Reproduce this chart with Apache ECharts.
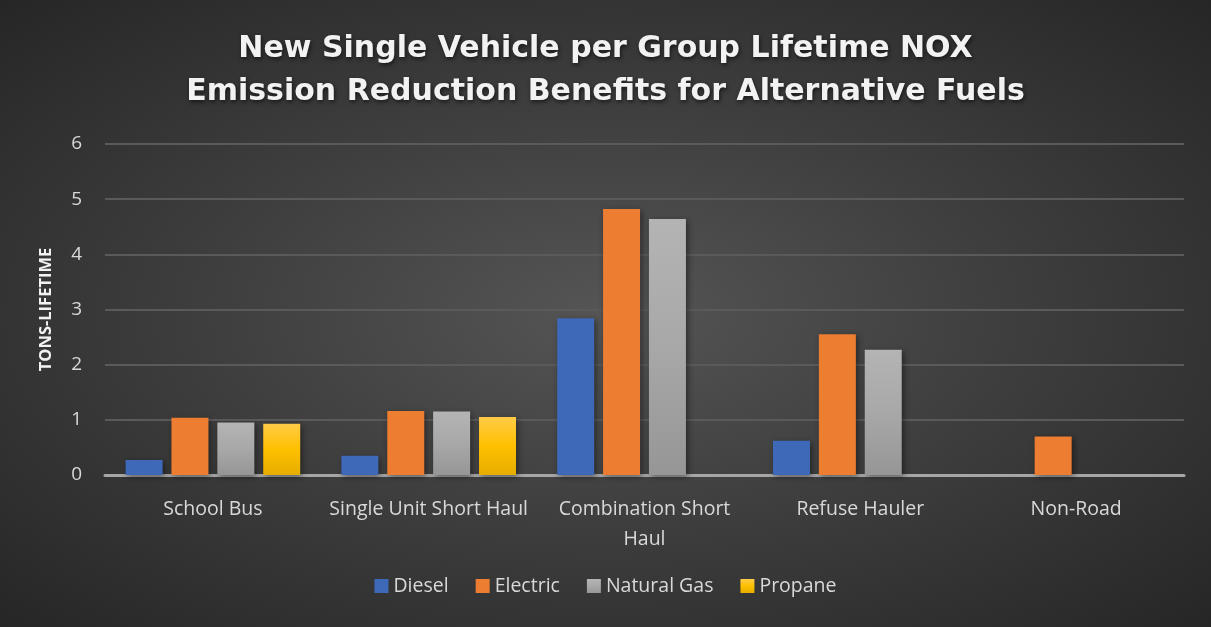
<!DOCTYPE html>
<html>
<head>
<meta charset="utf-8">
<script src="https://cdn.jsdelivr.net/npm/echarts@6/dist/echarts.min.js"></script>
<style>
  html, body { margin: 0; padding: 0; background: #262626; }
  #chart { width: 1211px; height: 627px;
    background: radial-gradient(ellipse at center, #555555 0%, #3f3f3f 45%, #262626 100%); }
</style>
</head>
<body>
<div id="chart"></div>
<script>
// Data
const categories = ['School Bus', 'Single Unit Short Haul', 'Combination Short\nHaul', 'Refuse Hauler', 'Non-Road'];
const diesel = [0.27, 0.35, 2.84, 0.62, null];
const electric = [1.04, 1.16, 4.82, 2.55, 0.70];
const naturalGas = [0.95, 1.15, 4.64, 2.27, null];
const propane = [0.93, 1.05, null, null, null];

const font = '"Open Sans", Lato, sans-serif';

function grad(top, mid, bottom) {
    return new echarts.graphic.LinearGradient(0, 0, 0, 1, [
        { offset: 0, color: top },
        { offset: 0.5, color: mid },
        { offset: 1, color: bottom }
    ]);
}

function makeSeries(name, data, color) {
    return {
        name: name,
        type: 'bar',
        data: data,
        barWidth: 37,
        barGap: '24%',
        itemStyle: {
            color: color,
            shadowBlur: 6,
            shadowOffsetX: 2,
            shadowOffsetY: 2,
            shadowColor: 'rgba(0,0,0,0.45)'
        }
    };
}

const chart = echarts.init(document.getElementById('chart'), null, { renderer: 'canvas' });

const option = {
    backgroundColor: 'transparent',
    animation: false,
    title: {
        text: 'New Single Vehicle per Group Lifetime NOX\nEmission Reduction Benefits for Alternative Fuels',
        left: 'center',
        top: 23,
        textStyle: {
            fontFamily: '"DejaVu Sans", sans-serif',
            fontWeight: 'bold',
            fontSize: 30,
            lineHeight: 43,
            color: '#f2f2f2',
            textShadowColor: 'rgba(0,0,0,0.6)',
            textShadowBlur: 4,
            textShadowOffsetX: 1,
            textShadowOffsetY: 2
        }
    },
    legend: {
        bottom: 26,
        left: 'center',
        itemWidth: 14,
        itemHeight: 14,
        itemGap: 27,
        icon: 'rect',
        textStyle: {
            fontFamily: font,
            fontSize: 19.5,
            color: '#d9d9d9'
        },
        data: ['Diesel', 'Electric', 'Natural Gas', 'Propane']
    },
    grid: {
        left: 105,
        right: 27,
        top: 144,
        bottom: 152,
        containLabel: false
    },
    xAxis: {
        type: 'category',
        data: categories,
        axisTick: { show: false },
        axisLine: { lineStyle: { color: '#a6a6a6', width: 3 } },
        axisLabel: {
            fontFamily: font,
            fontSize: 19.5,
            color: '#d9d9d9',
            margin: 19,
            lineHeight: 30,
            interval: 0
        }
    },
    yAxis: {
        type: 'value',
        min: 0,
        max: 6,
        interval: 1,
        name: 'TONS-LIFETIME',
        nameLocation: 'middle',
        nameGap: 50,
        nameRotate: 90,
        nameTextStyle: {
            fontFamily: font,
            fontWeight: 'bold',
            fontSize: 16.5,
            color: '#f2f2f2'
        },
        axisLine: { show: false },
        axisTick: { show: false },
        axisLabel: {
            fontFamily: font,
            fontSize: 19,
            color: '#d9d9d9',
            margin: 23
        },
        splitLine: { lineStyle: { color: '#5a5a5a', width: 2 } }
    },
    series: [
        makeSeries('Diesel', diesel, '#3e69b8'),
        makeSeries('Electric', electric, '#ed7d31'),
        makeSeries('Natural Gas', naturalGas, grad('#b4b4b4', '#a8a8a8', '#969696')),
        makeSeries('Propane', propane, grad('#ffcb47', '#ffc000', '#e5ad00'))
    ]
};

chart.setOption(option);
</script>
</body>
</html>
